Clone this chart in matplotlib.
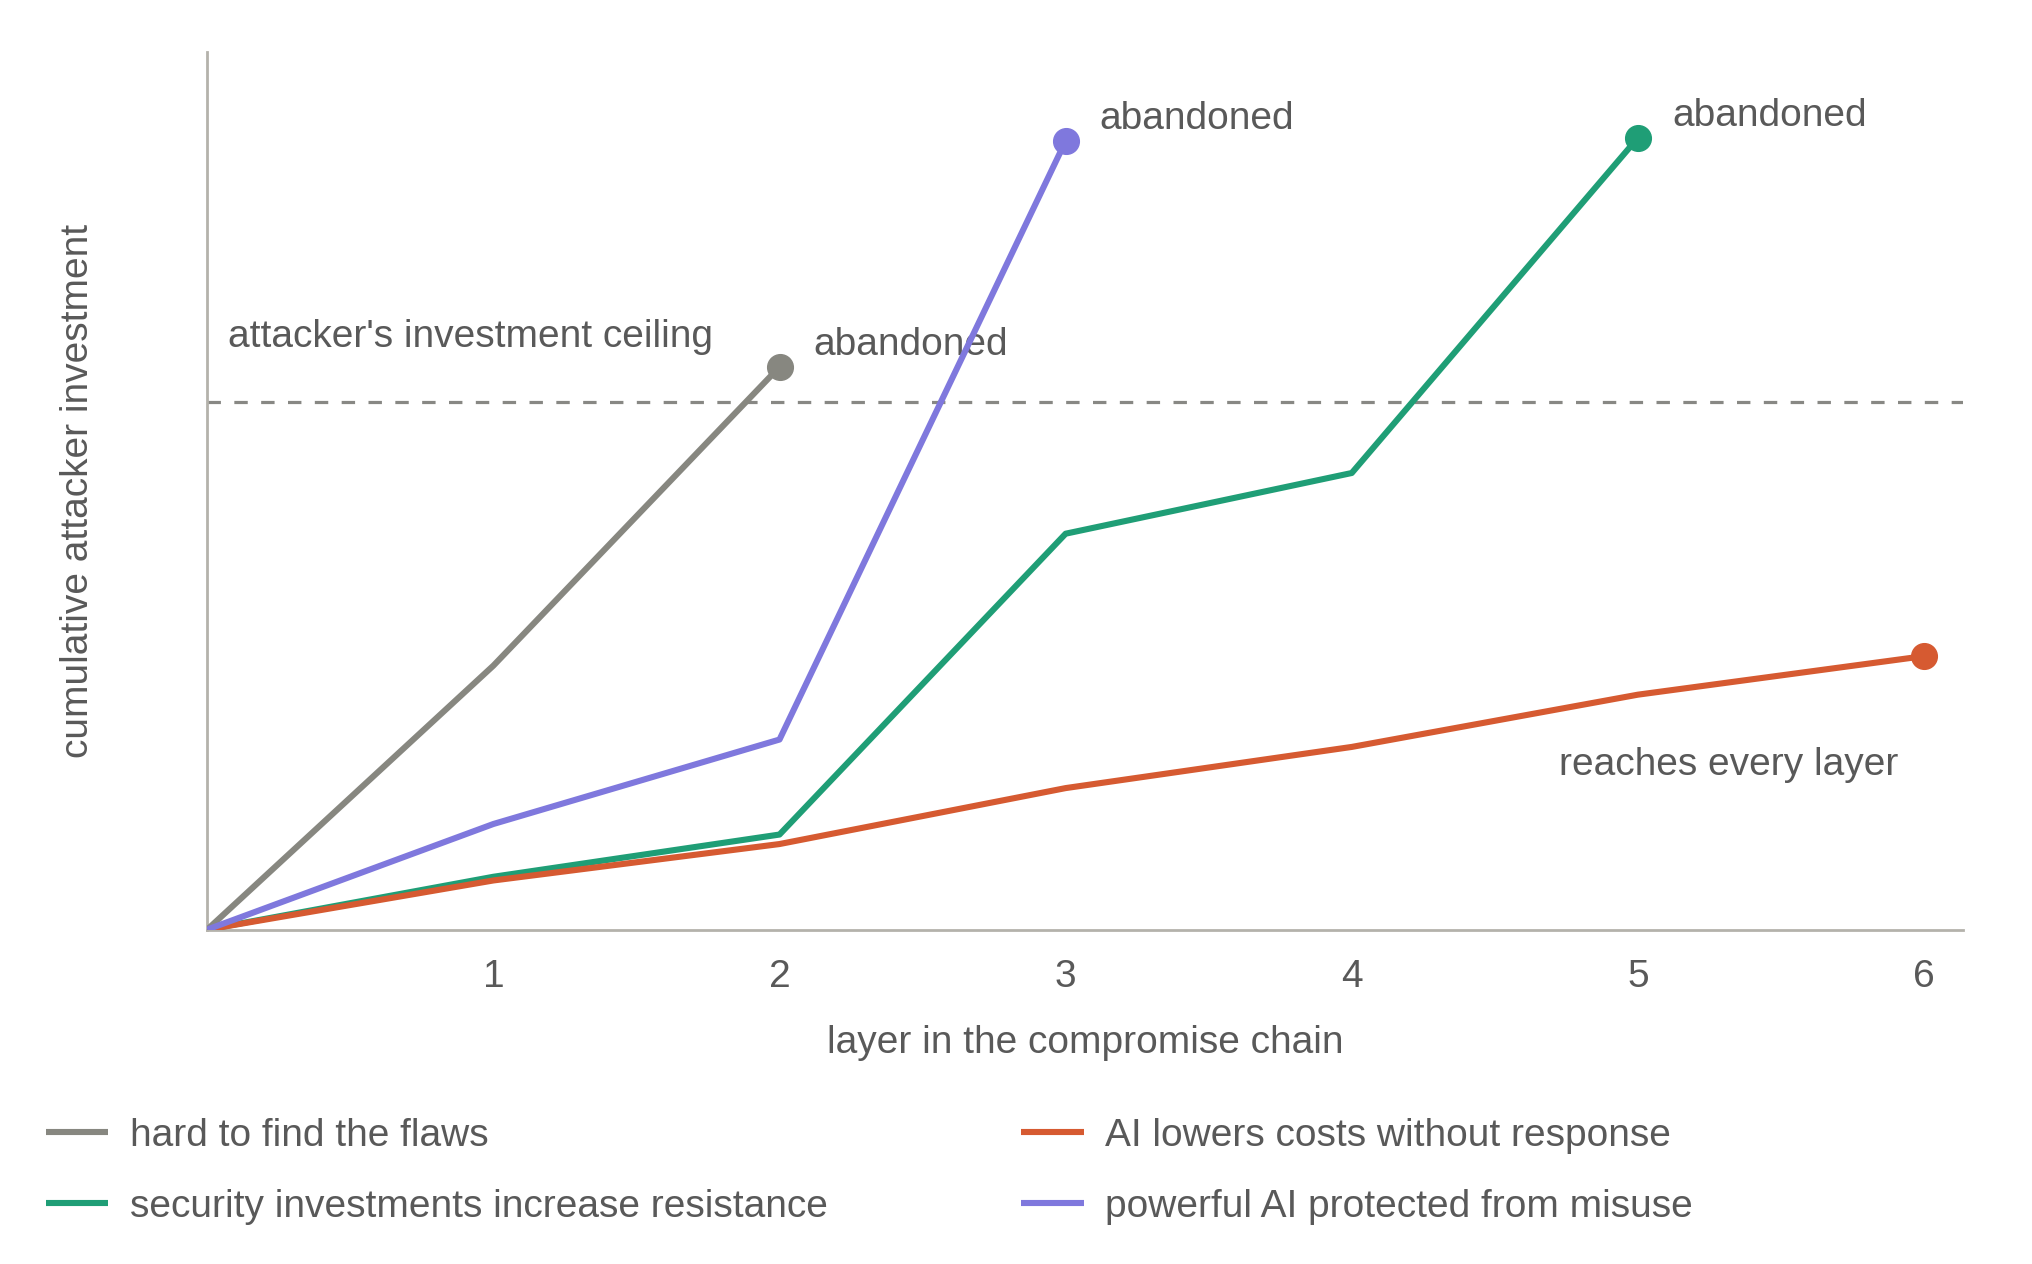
"""Attacker investment per layer of the compromise chain."""
import matplotlib

matplotlib.use("Agg")
from matplotlib import pyplot as plt

plt.rcParams["font.family"] = ["Liberation Sans", "DejaVu Sans"]

# layer index and cumulative investment (ceiling = 100)
gray_x = [0, 1, 2]
gray_y = [0, 50, 106.6]
purple_x = [0, 1, 2, 3]
purple_y = [0, 20, 36, 149.4]
green_x = [0, 1, 2, 3, 4, 5]
green_y = [0, 10, 18, 75, 86.5, 150]
orange_x = [0, 1, 2, 3, 4, 5, 6]
orange_y = [0, 9.3, 16.2, 26.8, 34.6, 44.5, 51.8]
ceiling = 100

series = [
    ("hard to find the flaws", gray_x, gray_y, "#878780"),
    ("security investments increase resistance", green_x, green_y, "#1f9e76"),
    ("AI lowers costs without response", orange_x, orange_y, "#d65a31"),
    ("powerful AI protected from misuse", purple_x, purple_y, "#7f78dd"),
]
end_labels = {
    "hard to find the flaws": "abandoned",
    "security investments increase resistance": "abandoned",
    "powerful AI protected from misuse": "abandoned",
}
xticks = [1, 2, 3, 4, 5, 6]

text_color = "#595959"
fs = 28

fig = plt.figure(figsize=(20.32, 12.64), dpi=100)
ax = fig.add_axes([0.102, 0.2646, 0.864, 0.6944])

handles = []
for name, xs, ys, color in series:
    (ln,) = ax.plot(xs, ys, color=color, lw=4.4, solid_joinstyle="round",
                    solid_capstyle="butt", label=name, zorder=3)
    ax.plot(xs[-1], ys[-1], "o", color=color, ms=18.5, zorder=4)
    handles.append(ln)
    if name in end_labels:
        ax.annotate(end_labels[name], (xs[-1], ys[-1]), xytext=(34, 22),
                    textcoords="offset pixels", va="center", ha="left",
                    fontsize=fs, color=text_color)

ax.annotate("reaches every layer", (orange_x[-1], orange_y[-1]),
            xytext=(-26, -109), textcoords="offset pixels", va="center",
            ha="right", fontsize=fs, color=text_color)

ax.axhline(ceiling, color="#888884", lw=2.3, dashes=(4.2, 4.2), zorder=2)
ax.text(0.072, 112.3, "attacker's investment ceiling", va="center",
        ha="left", fontsize=fs, color=text_color)

ax.set_xlim(0, 6.136)
ax.set_ylim(0, 166.3)
ax.set_xticks(xticks)
ax.set_xticklabels([str(t) for t in xticks])
ax.set_yticks([])
ax.tick_params(axis="x", length=0, pad=21.5, labelsize=fs,
               labelcolor=text_color)
for side in ("top", "right"):
    ax.spines[side].set_visible(False)
for side in ("left", "bottom"):
    ax.spines[side].set_color("#b4b2ab")
    ax.spines[side].set_linewidth(2)

ax.set_xlabel("layer in the compromise chain", fontsize=fs, color=text_color,
              labelpad=21.5)
ax.set_ylabel("cumulative attacker investment", fontsize=fs, color=text_color,
              labelpad=80)

legend_kw = dict(frameon=False, fontsize=fs, labelcolor=text_color,
                 handlelength=1.6, handletextpad=0.55, labelspacing=0.9,
                 borderpad=0, borderaxespad=0, loc="center left")
fig.legend(handles=handles[:2], bbox_to_anchor=(0.0226, 0.0733), **legend_kw)
fig.legend(handles=handles[2:], bbox_to_anchor=(0.5026, 0.0733), **legend_kw)

fig.savefig("out.png", dpi=100, facecolor="white")
